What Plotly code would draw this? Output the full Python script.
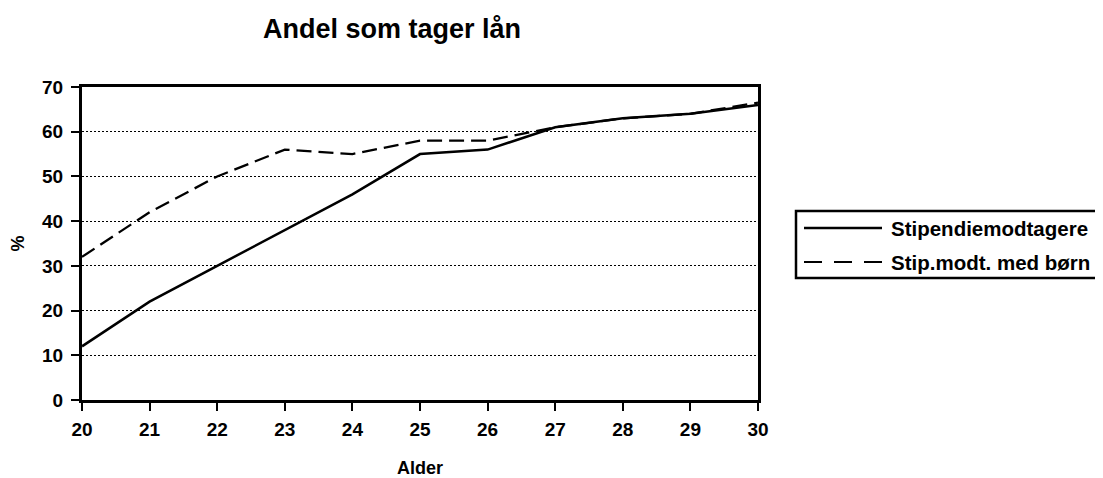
import plotly.graph_objects as go

# Data
ages = [20, 21, 22, 23, 24, 25, 26, 27, 28, 29, 30]
stipendiemodtagere = [12, 22, 30, 38, 46, 55, 56, 61, 63, 64, 66]
stip_med_boern = [32, 42, 50, 56, 55, 58, 58, 61, 63, 64, 66.5]
series_names = ["Stipendiemodtagere", "Stip.modt. med børn"]
y_ticks = [0, 10, 20, 30, 40, 50, 60, 70]

OFF = 8  # default page body margin
W, H = 1103 - OFF, 478 - OFF
L, R, T, B = 82 - OFF, 758 - OFF, 87 - OFF, 400 - OFF  # plot area in figure px


def px_x(px):
    return (px - OFF - L) / (R - L)


def px_y(py):
    return (B - (py - OFF)) / (B - T)


FONT = "Liberation Sans, Arial, sans-serif"

fig = go.Figure()
fig.add_trace(go.Scatter(x=ages, y=stipendiemodtagere, mode="lines", name=series_names[0],
                         line=dict(color="black", width=2.5), showlegend=False))
fig.add_trace(go.Scatter(x=ages, y=stip_med_boern, mode="lines", name=series_names[1],
                         line=dict(color="black", width=2.3, dash="15px,7px"), showlegend=False))

fig.update_layout(
    width=W, height=H,
    margin=dict(l=L, r=W - R, t=T, b=H - B, pad=0, autoexpand=False),
    paper_bgcolor="white", plot_bgcolor="white",
    font=dict(family=FONT, color="black"),
    title=dict(text="<b>Andel som tager lån</b>", x=(392 - OFF) / W, xanchor="center",
               y=1 - (29 - OFF) / H, yanchor="middle", font=dict(size=27, family=FONT)),
    xaxis=dict(range=[20, 30], tickvals=ages, ticktext=[f"<b>{a}</b>" for a in ages],
               automargin=False,
               showgrid=False, zeroline=False, showline=True, linecolor="black", linewidth=3,
               mirror=True, ticks="outside", ticklen=8, tickwidth=2, tickcolor="black",
               tickfont=dict(size=19, family=FONT), ticklabelstandoff=2,
               title=dict(text="<b>Alder</b>", font=dict(size=18, family=FONT), standoff=35)),
    yaxis=dict(range=[0, 70], tickvals=y_ticks, ticktext=[f"<b>{v}</b>" for v in y_ticks],
               automargin=False,
               showgrid=True, gridcolor="black", gridwidth=1, griddash="2px,2px",
               zeroline=False, showline=True, linecolor="black", linewidth=3,
               mirror=True, ticks="outside", ticklen=8, tickwidth=2, tickcolor="black",
               tickfont=dict(size=19, family=FONT), ticklabelstandoff=4,
               title=dict(text="<b>%</b>", font=dict(size=18, family=FONT), standoff=17)),
)

# Manual legend (box extends past the right edge as in the reference)
fig.add_shape(type="rect", xref="paper", yref="paper",
              x0=px_x(796), x1=px_x(1115), y0=px_y(278), y1=px_y(211),
              line=dict(color="black", width=2.5), fillcolor="white", layer="above")
legend_rows = [(228, dict(color="black", width=2.5)),
               (262, dict(color="black", width=2, dash="18px,12px"))]
for name, (py, ln) in zip(series_names, legend_rows):
    fig.add_shape(type="line", xref="paper", yref="paper",
                  x0=px_x(804), x1=px_x(882), y0=px_y(py), y1=px_y(py), line=ln)
    fig.add_annotation(xref="paper", yref="paper", x=px_x(889), y=px_y(py),
                       xanchor="left", yanchor="middle", showarrow=False,
                       text=f"<b>{name}</b>", font=dict(size=20.5, family=FONT))

fig.write_html("out.html")
